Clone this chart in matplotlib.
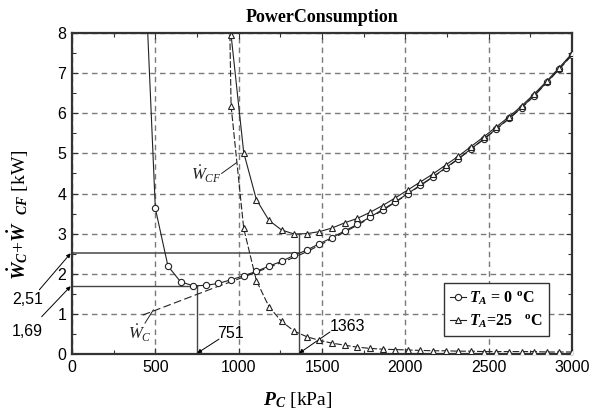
import numpy as np
import matplotlib
matplotlib.use("Agg")
import matplotlib.pyplot as plt

plt.rcParams['mathtext.fontset'] = 'custom'
plt.rcParams['mathtext.rm'] = 'Liberation Serif'
plt.rcParams['mathtext.it'] = 'Liberation Serif:italic'
plt.rcParams['mathtext.bf'] = 'Liberation Serif:bold'
plt.rcParams['mathtext.bfit'] = 'Liberation Serif:italic:bold'

# Condenser pressure [kPa]
P_kPa = [424.2, 500.0, 575.8, 651.5, 727.3, 803.0, 878.8, 954.5, 1030.3, 1106.1,
         1181.8, 1257.6, 1333.3, 1409.1, 1484.8, 1560.6, 1636.4, 1712.1, 1787.9,
         1863.6, 1939.4, 2015.2, 2090.9, 2166.7, 2242.4, 2318.2, 2393.9, 2469.7,
         2545.5, 2621.2, 2697.0, 2772.7, 2848.5, 2924.2, 3000.0]

# Compressor power [kW]
W_C = [0.97, 1.09, 1.21, 1.33, 1.45, 1.57, 1.69, 1.80, 1.92, 2.04, 2.16, 2.28,
       2.41, 2.55, 2.71, 2.87, 3.04, 3.21, 3.39, 3.58, 3.78, 3.99, 4.20, 4.41,
       4.63, 4.86, 5.10, 5.35, 5.60, 5.86, 6.13, 6.43, 6.76, 7.10, 7.45]

# Total power (compressor + condenser fan) [kW]
W_total_0C = [10.9, 3.63, 2.19, 1.80, 1.70, 1.71, 1.76, 1.85, 1.95, 2.06, 2.19,
              2.31, 2.46, 2.59, 2.75, 2.90, 3.07, 3.23, 3.41, 3.60, 3.79, 4.00,
              4.21, 4.42, 4.64, 4.87, 5.11, 5.36, 5.61, 5.87, 6.14, 6.44, 6.77,
              7.11, 7.46]
nan = np.nan
W_total_25C = [nan, nan, nan, nan, nan, nan, 26.7, 7.95, 5.02, 3.85, 3.33, 3.09,
               2.99, 3.00, 3.05, 3.14, 3.27, 3.38, 3.53, 3.70, 3.89, 4.09, 4.29,
               4.49, 4.71, 4.93, 5.17, 5.41, 5.66, 5.91, 6.18, 6.48, 6.80, 7.14,
               7.49]

# Condenser fan power at T_A = 25 C [kW]
W_CF_25C = [nan, nan, nan, nan, nan, nan, 25.0, 6.18, 3.13, 1.83, 1.18, 0.81,
            0.57, 0.43, 0.34, 0.27, 0.22, 0.17, 0.14, 0.12, 0.11, 0.10, 0.09,
            0.08, 0.08, 0.07, 0.07, 0.06, 0.06, 0.06, 0.06, 0.06, 0.05, 0.05,
            0.05]

# Optimum points
P_opt_0C, W_opt_0C = 751, 1.69
P_opt_25C, W_ref_25C = 1363, 2.51

x_ticks = [0, 500, 1000, 1500, 2000, 2500, 3000]
y_ticks = [0, 1, 2, 3, 4, 5, 6, 7, 8]

ink = '#222222'
fig = plt.figure(figsize=(5.9, 4.12), dpi=100)
ax = fig.add_axes([72/590, 58/412, 500/590, 321/412])

ax.set_xlim(0, 3000)
ax.set_ylim(0, 8)
ax.set_axisbelow(True)
ax.grid(which='major', color='#7a7a7a', linestyle=(0, (4, 3)), linewidth=1.0)

# reference lines for the optima
ax.plot([0, P_opt_0C], [W_opt_0C, W_opt_0C], color='#444444', lw=1.0, zorder=2)
ax.plot([P_opt_0C, P_opt_0C], [0, W_opt_0C], color='#444444', lw=1.0, zorder=2)
top_25 = np.interp(P_opt_25C, P_kPa[7:], W_total_25C[7:])
ax.plot([0, P_opt_25C], [W_ref_25C, W_ref_25C], color='#555555', lw=1.2, zorder=2)
ax.plot([P_opt_25C, P_opt_25C], [0, top_25], color='#444444', lw=1.0, zorder=2)

# compressor power
ax.plot(P_kPa, W_C, color=ink, lw=0.8, linestyle=(0, (7, 3)), zorder=3)
# fan power at 25 C
ax.plot(P_kPa, W_CF_25C, color=ink, lw=0.8, linestyle=(0, (6, 2)),
        marker='^', ms=5, mfc='white', mec=ink, mew=0.8, zorder=4)
# totals
l0, = ax.plot(P_kPa, W_total_0C, color=ink, lw=0.8, marker='o', ms=4.5,
              mfc='white', mec=ink, mew=0.8, zorder=5)
l25, = ax.plot(P_kPa, W_total_25C, color=ink, lw=0.8, marker='^', ms=5,
               mfc='white', mec=ink, mew=0.8, zorder=5)

ax.set_xticks(x_ticks)
ax.set_yticks(y_ticks)
ax.set_xticks(np.arange(0, 3001, 250), minor=True)
ax.set_yticks(np.arange(0, 8.01, 0.5), minor=True)
ax.tick_params(which='both', direction='in', top=True, right=True, colors='#333333',
               labelcolor='black', labelsize=11.5, pad=4)
ax.tick_params(which='major', length=4, width=0.8)
ax.tick_params(which='minor', length=3, width=0.8)
for lab in ax.get_xticklabels() + ax.get_yticklabels():
    lab.set_family('Liberation Sans')
for sp in ax.spines.values():
    sp.set_linewidth(1.6)
    sp.set_color('#333333')

# value annotations
sans = dict(family='Liberation Sans', fontsize=11.5)
arrow = dict(arrowstyle='-|>', lw=0.7, color='black', mutation_scale=6,
             shrinkA=0, shrinkB=0)
ax.text(-264, 1.35, '2,51', ha='center', va='center', clip_on=False, **sans)
ax.annotate('', xy=(-8, W_ref_25C), xytext=(-196, 1.6), arrowprops=arrow,
            annotation_clip=False)
ax.text(-266, 0.57, '1,69', ha='center', va='center', clip_on=False, **sans)
ax.annotate('', xy=(-8, W_opt_0C), xytext=(-182, 0.93), arrowprops=arrow,
            annotation_clip=False)
ax.text(951, 0.51, '751', ha='center', va='center', **sans)
ax.annotate('', xy=(P_opt_0C, 0.02), xytext=(882, 0.37), arrowprops=arrow)
ax.text(1654, 0.68, '1363', ha='center', va='center', **sans)
ax.annotate('', xy=(P_opt_25C, 0.02), xytext=(1548, 0.55), arrowprops=arrow)

# curve labels
ax.text(408, 0.52, r'$\dot{W}_C$', ha='center', va='center', fontsize=12, color=ink)
ax.plot([438, 488], [0.77, 1.10], color=ink, lw=0.7)
ax.text(808, 4.49, r'$\dot{W}_{CF}$', ha='center', va='center', fontsize=12, color=ink)
ax.plot([898, 988], [4.5, 4.77], color=ink, lw=0.7)

leg = ax.legend([l0, l25],
                [r'$\mathbfit{T_A}$ = 0 $^{\mathbf{o}}$C', r'$\mathbfit{T_A}$=25   $^{\mathbf{o}}$C'],
                loc='lower right', bbox_to_anchor=(0.953, 0.056), borderaxespad=0,
                fancybox=False, edgecolor='#333333', framealpha=1, handlelength=1.0,
                handletextpad=0.15, borderpad=0.4, labelspacing=0.3,
                prop=dict(family='Liberation Serif', weight='bold', size=11.5))
leg.get_frame().set_linewidth(1.0)

fig.text(322/590, 1 - 17/412, 'PowerConsumption', ha='center', va='center',
         family='Liberation Serif', weight='bold', fontsize=13)
fig.text(298/590, 1 - 400/412, r'$\mathbfit{P_C}$ [kPa]', ha='center', va='center',
         family='Liberation Serif', fontsize=14)
fig.text(18/590, 1 - 215/412, r'$\mathbfit{\dot{W}_C}$+$\mathbfit{\dot{W}}$  $_{\mathbfit{CF}}$ [kW]',
         ha='center', va='center', rotation=90, family='Liberation Serif', fontsize=14)

fig.savefig('out.png', dpi=100)
